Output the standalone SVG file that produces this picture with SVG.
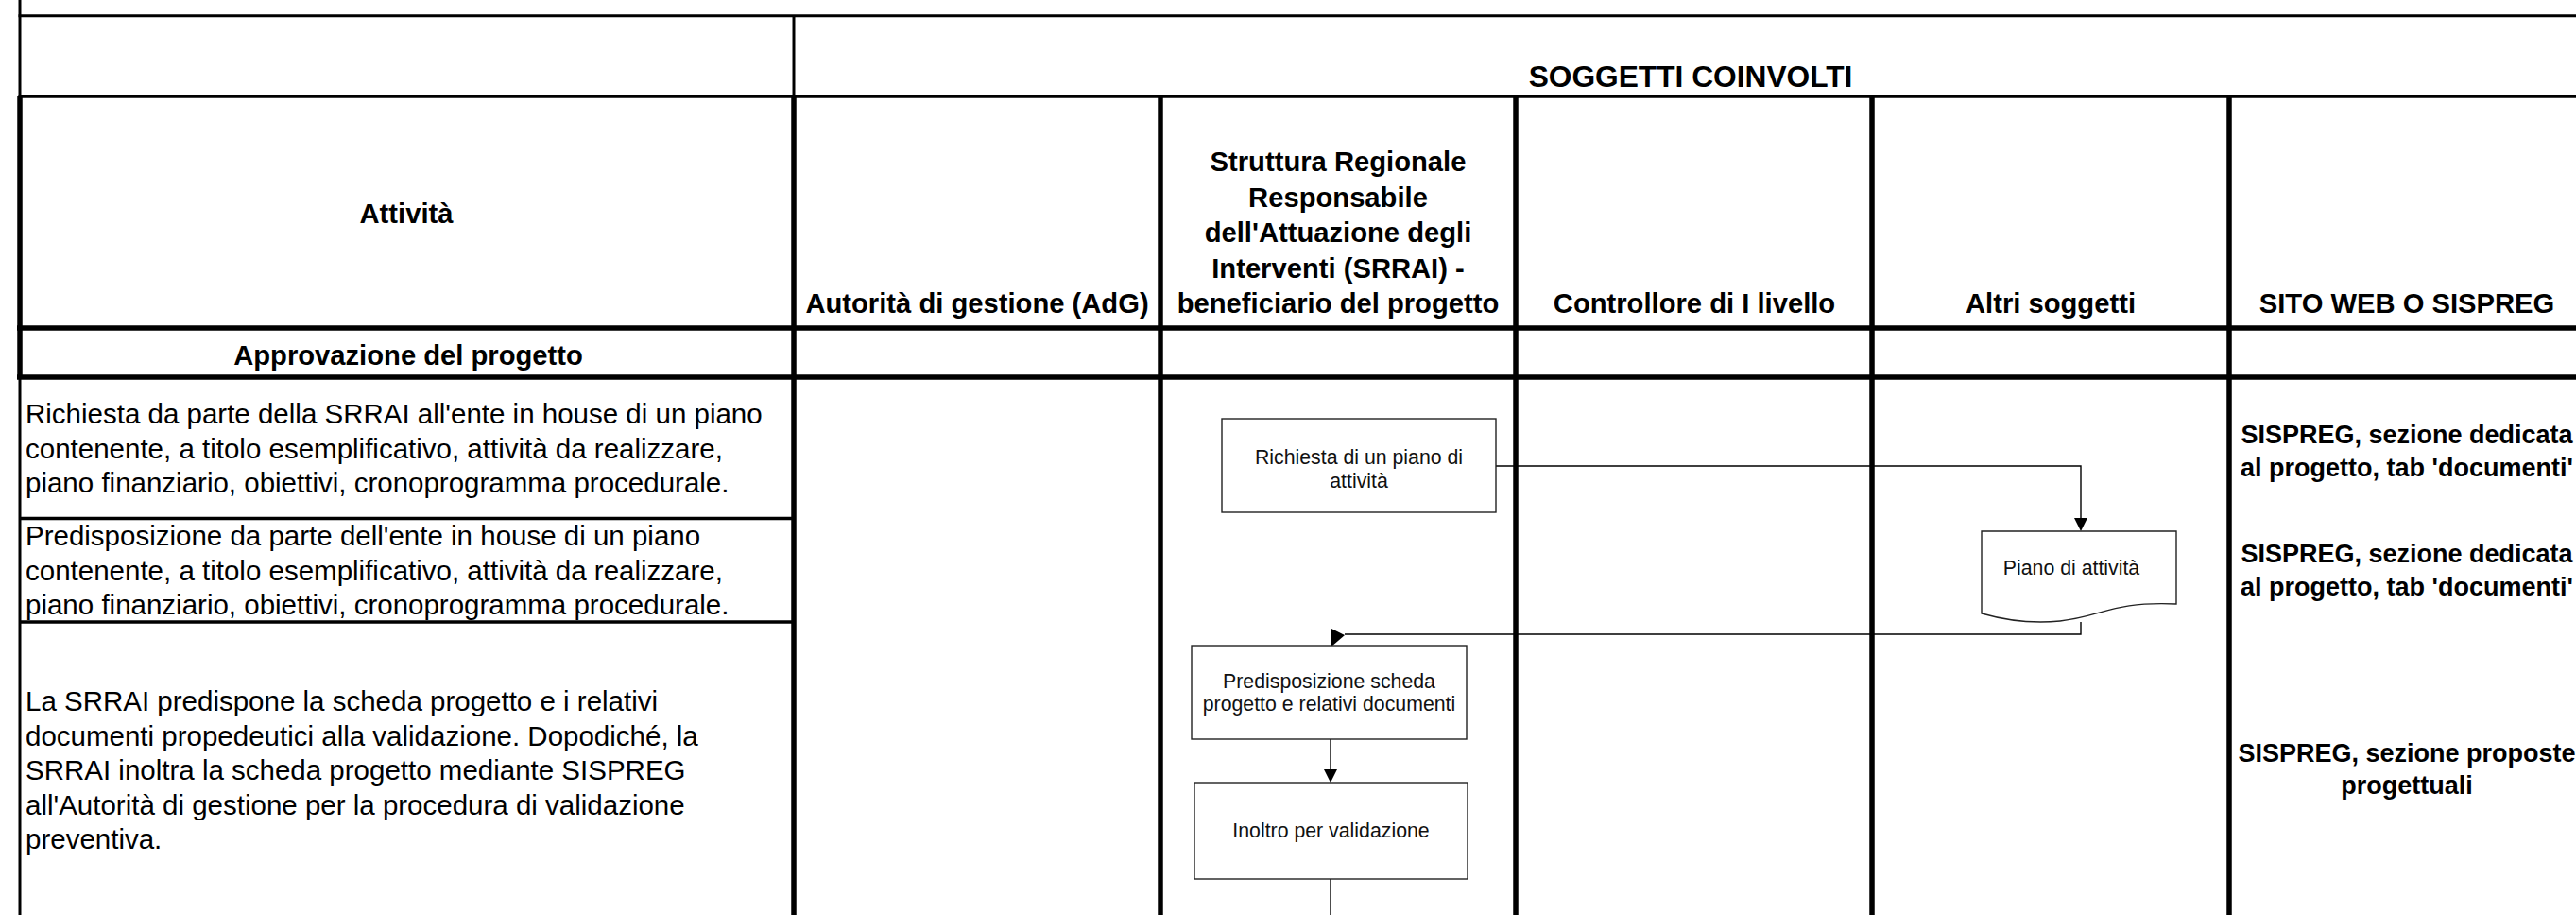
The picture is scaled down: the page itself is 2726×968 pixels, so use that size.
<svg xmlns="http://www.w3.org/2000/svg" width="2726" height="968" viewBox="0 0 2726 968">
<defs>
<style>
.thin{stroke:#000;stroke-width:3;fill:none}
.mid{stroke:#000;stroke-width:3.5;fill:none}
.thick{stroke:#000;stroke-width:5.5;fill:none}
.hdr{font-family:"Liberation Sans",Arial,sans-serif;font-weight:bold;font-size:29.2px;fill:#000;text-anchor:middle}
.title{font-family:"Liberation Sans",Arial,sans-serif;font-weight:bold;font-size:31.7px;fill:#000;text-anchor:middle}
.act{font-family:"Liberation Sans",Arial,sans-serif;font-size:29.5px;fill:#000}
.web{font-family:"Liberation Sans",Arial,sans-serif;font-weight:bold;font-size:27px;fill:#000;text-anchor:middle}
.box{fill:#fff;stroke:#222;stroke-width:1.4}
.lbl{font-family:"Liberation Sans",Arial,sans-serif;font-size:21.3px;fill:#111;text-anchor:middle}
.conn{stroke:#000;stroke-width:1.4;fill:none}
.head{fill:#000;stroke:none}
</style>
</defs>
<rect width="2726" height="968" fill="#fff"/>
<g id="grid">
<line class="thin" x1="21" y1="0" x2="21" y2="102"/>
<line class="thin" x1="21" y1="399" x2="21" y2="968"/>
<line class="thick" x1="21" y1="102" x2="21" y2="399"/>
<line class="thin" x1="19.5" y1="16.8" x2="2726" y2="16.8"/>
<line class="mid" x1="19.5" y1="102" x2="2726" y2="102"/>
<line class="thin" x1="840" y1="16" x2="840" y2="102"/>
<line class="thick" x1="840" y1="101" x2="840" y2="968"/>
<line class="thick" x1="1228" y1="101" x2="1228" y2="968"/>
<line class="thick" x1="1604" y1="101" x2="1604" y2="968"/>
<line class="thick" x1="1981" y1="101" x2="1981" y2="968"/>
<line class="thick" x1="2359" y1="101" x2="2359" y2="968"/>
<line class="thick" x1="18" y1="347" x2="2726" y2="347"/>
<line class="thick" x1="18" y1="399" x2="2726" y2="399"/>
<line class="mid" x1="21" y1="548.5" x2="840" y2="548.5"/>
<line class="mid" x1="21" y1="658" x2="840" y2="658"/>
</g>
<g id="headers">
<text class="title" x="1789" y="92">SOGGETTI COINVOLTI</text>
<text class="hdr" x="430" y="236">Attività</text>
<text class="hdr" x="1034" y="331">Autorità di gestione (AdG)</text>
<text class="hdr" x="1416" y="181">Struttura Regionale</text>
<text class="hdr" x="1416" y="218.5">Responsabile</text>
<text class="hdr" x="1416" y="256">dell'Attuazione degli</text>
<text class="hdr" x="1416" y="293.5">Interventi (SRRAI) -</text>
<text class="hdr" x="1416" y="331">beneficiario del progetto</text>
<text class="hdr" x="1793" y="331">Controllore di I livello</text>
<text class="hdr" x="2170" y="331">Altri soggetti</text>
<text class="hdr" x="2547" y="331">SITO WEB O SISPREG</text>
<text class="hdr" x="432" y="386">Approvazione del progetto</text>
</g>
<g id="activities">
<text class="act" x="27" y="448">Richiesta da parte della SRRAI all'ente in house di un piano</text>
<text class="act" x="27" y="484.5">contenente, a titolo esemplificativo, attività da realizzare,</text>
<text class="act" x="27" y="521">piano finanziario, obiettivi, cronoprogramma procedurale.</text>
<text class="act" x="27" y="577">Predisposizione da parte dell'ente in house di un piano</text>
<text class="act" x="27" y="613.5">contenente, a titolo esemplificativo, attività da realizzare,</text>
<text class="act" x="27" y="650">piano finanziario, obiettivi, cronoprogramma procedurale.</text>
<text class="act" x="27" y="752">La SRRAI predispone la scheda progetto e i relativi</text>
<text class="act" x="27" y="788.5">documenti propedeutici alla validazione. Dopodiché, la</text>
<text class="act" x="27" y="825">SRRAI inoltra la scheda progetto mediante SISPREG</text>
<text class="act" x="27" y="861.5">all'Autorità di gestione per la procedura di validazione</text>
<text class="act" x="27" y="898">preventiva.</text>
</g>
<g id="web">
<text class="web" x="2547" y="469">SISPREG, sezione dedicata</text>
<text class="web" x="2547" y="504">al progetto, tab 'documenti'</text>
<text class="web" x="2547" y="595">SISPREG, sezione dedicata</text>
<text class="web" x="2547" y="630">al progetto, tab 'documenti'</text>
<text class="web" x="2547" y="806">SISPREG, sezione proposte</text>
<text class="web" x="2547" y="840">progettuali</text>
</g>
<g id="connectors">
<polyline class="conn" points="1583,493 2202,493 2202,549"/>
<polygon class="head" points="2195,548 2209,548 2202,562"/>
<polyline class="conn" points="2202,658 2202,671 1423,671"/>
<polygon class="head" points="1409,665 1423,672 1409,684"/>
<line class="conn" x1="1408" y1="782" x2="1408" y2="815"/>
<polygon class="head" points="1401,814 1415,814 1408,828"/>
<line class="conn" x1="1408" y1="930" x2="1408" y2="968"/>
</g>
<g id="node-richiesta">
<rect class="box" x="1293" y="443" width="290" height="99"/>
<text class="lbl" x="1438" y="491">Richiesta di un piano di</text>
<text class="lbl" x="1438" y="516">attività</text>
</g>
<g id="node-piano">
<path class="box" d="M2097,562 H2303 V639 C2235,636 2225,652 2180,657 C2150,660 2125,657 2097,649 Z"/>
<text class="lbl" x="2192" y="608">Piano di attività</text>
</g>
<g id="node-predisposizione">
<rect class="box" x="1261" y="683" width="291" height="99"/>
<text class="lbl" x="1406.5" y="728">Predisposizione scheda</text>
<text class="lbl" x="1406.5" y="752">progetto e relativi documenti</text>
</g>
<g id="node-inoltro">
<rect class="box" x="1264" y="828" width="289" height="102"/>
<text class="lbl" x="1408.5" y="886">Inoltro per validazione</text>
</g>
</svg>
